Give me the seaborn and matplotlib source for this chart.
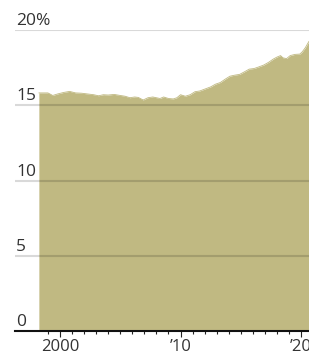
import matplotlib
matplotlib.use("Agg")
import matplotlib.pyplot as plt
import matplotlib.transforms as mtransforms
import seaborn as sns
import pandas as pd

# values (decimal year, percent)
years = [1998.25, 1999.0, 1999.4, 1999.8, 2000.3, 2000.8, 2001.3, 2001.8, 2002.4, 2002.8,
         2003.2, 2003.6, 2004.0, 2004.5, 2005.0, 2005.4, 2005.8, 2006.2, 2006.5, 2006.9,
         2007.3, 2007.7, 2008.0, 2008.3, 2008.6, 2009.0, 2009.4, 2009.7, 2010.0, 2010.4,
         2010.8, 2011.2, 2011.6, 2012.0, 2012.5, 2012.9, 2013.3, 2013.7, 2014.1, 2014.5,
         2014.9, 2015.3, 2015.7, 2016.1, 2016.5, 2016.9, 2017.3, 2017.7, 2018.0, 2018.3,
         2018.5, 2018.8, 2019.1, 2019.5, 2019.9, 2020.1, 2020.35, 2020.66]
share = [15.82, 15.82, 15.65, 15.75, 15.85, 15.92, 15.82, 15.80, 15.74, 15.70,
         15.63, 15.70, 15.68, 15.72, 15.65, 15.60, 15.50, 15.55, 15.52, 15.35,
         15.50, 15.55, 15.50, 15.45, 15.55, 15.45, 15.42, 15.50, 15.70, 15.60,
         15.70, 15.90, 15.95, 16.07, 16.22, 16.40, 16.51, 16.73, 16.93, 17.00,
         17.05, 17.22, 17.40, 17.44, 17.55, 17.67, 17.85, 18.07, 18.20, 18.30,
         18.15, 18.10, 18.30, 18.38, 18.40, 18.55, 18.82, 19.25]

y_ticks = [0, 5, 10, 15, 20]
y_labels = ["0", "5", "10", "15", "20%"]
x_major = [2000, 2010, 2020]
x_labels = ["2000", "\u201910", "\u201920"]
x_minor = [y for y in range(1999, 2020) if y not in x_major]

df = pd.DataFrame({"year": years, "share": share})

sns.set_theme(style="white")
plt.rcParams["font.family"] = ["Open Sans", "DejaVu Sans"]

fill_color = "#c0b982"
text_color = "#333333"

fig = plt.figure(figsize=(3.09, 3.59), dpi=100)
ax = fig.add_axes([15 / 309, 28 / 359, 294 / 309, 301 / 359])

ax.fill_between(df["year"], 0, df["share"], color=fill_color, linewidth=0, zorder=1)
sns.lineplot(data=df, x="year", y="share", ax=ax, color=fill_color, linewidth=0.6, zorder=1)

ax.set_xlim(1996.27, 2020.66)
ax.set_ylim(0, 20)

# gridlines on top of the area
for t in y_ticks[1:]:
    ax.axhline(t, color="black", alpha=0.15, linewidth=1.5, zorder=3)

# y labels sit just above their gridlines at the left edge
trans = mtransforms.blended_transform_factory(ax.transAxes, ax.transData)
offset = mtransforms.ScaledTranslation(0, 5 / 100, fig.dpi_scale_trans)
for t, lab in zip(y_ticks, y_labels):
    ax.text(0.004, t, lab, transform=trans + offset, ha="left", va="baseline",
            fontsize=12.5, color=text_color, zorder=4)
ax.set_yticks([])

ax.set_xticks(x_major)
ax.set_xticklabels(x_labels)
ax.set_xticks(x_minor, minor=True)
ax.tick_params(axis="x", which="major", length=4, width=0.8, color="#222222",
               labelsize=12, labelcolor=text_color, pad=2, bottom=True)
ax.tick_params(axis="x", which="minor", length=2.2, width=0.8, color="#222222", bottom=True)

for s in ["top", "right", "left"]:
    ax.spines[s].set_visible(False)
ax.spines["bottom"].set_color("#111111")
ax.spines["bottom"].set_linewidth(1.5)
ax.spines["bottom"].set_zorder(5)

ax.set_xlabel("")
ax.set_ylabel("")

fig.savefig("out.png", dpi=100)
